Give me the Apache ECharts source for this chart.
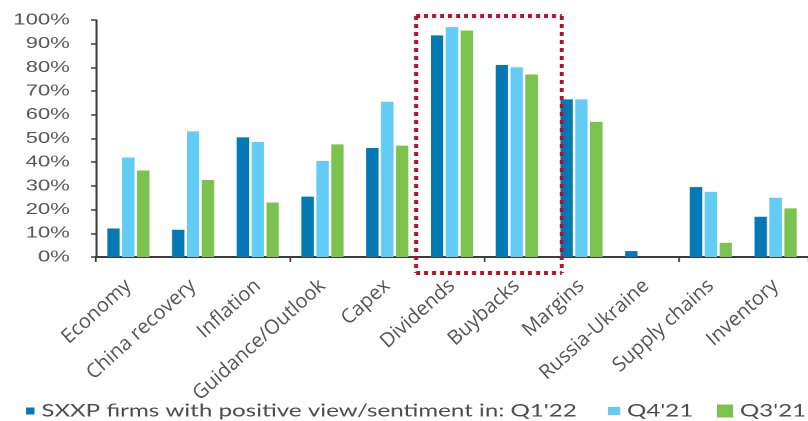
<!DOCTYPE html>
<html>
<head>
<meta charset="utf-8">
<script src="https://cdn.jsdelivr.net/npm/echarts@6/dist/echarts.min.js"></script>
<style>
  html, body { margin: 0; padding: 0; background: #fff; }
  #wrap { width: 808px; height: 421px; overflow: hidden; position: relative; }
  /* plot is laid out at a narrower width and stretched horizontally */
  #chart { position: absolute; left: 0; top: 0; width: 586px; height: 421px; transform: scaleX(1.3788); transform-origin: 0 0; }
  /* category labels are drawn unstretched on a layer above */
  #labels { position: absolute; left: 0; top: 0; width: 808px; height: 421px; pointer-events: none; }
</style>
</head>
<body>
<div id="wrap"><div id="chart"></div><div id="labels"></div></div>
<script>
const categories = ['Economy', 'China recovery', 'Inflation', 'Guidance/Outlook', 'Capex',
  'Dividends', 'Buybacks', 'Margins', 'Russia-Ukraine', 'Supply chains', 'Inventory'];
const seriesNames = ['SXXP firms with positive view/sentiment in: Q1\'22', 'Q4\'21', 'Q3\'21'];
const q1_22 = [12, 11.5, 50.5, 25.5, 46, 93.5, 81, 66.5, 2.5, 29.5, 17];
const q4_21 = [42, 53, 48.5, 40.5, 65.5, 97, 80, 66.5, 0, 27.5, 25];
const q3_21 = [36.5, 32.5, 23, 47.5, 47, 95.5, 77, 57, 0, 6, 20.5];
const yTicks = [0, 10, 20, 30, 40, 50, 60, 70, 80, 90, 100];
const highlighted = ['Dividends', 'Buybacks'];

const colors = ['#0479b4', '#62ccf5', '#7cc24f'];
const axisColor = '#3d3d3d';
const textColor = '#545454';
const stretch = 1.3788;

const chart = echarts.init(document.getElementById('chart'), null, { renderer: 'canvas', devicePixelRatio: 2 });
const labelLayer = echarts.init(document.getElementById('labels'), null, { renderer: 'canvas', devicePixelRatio: 2 });

function legendFor(i, left, w, h) {
  return {
    data: [seriesNames[i]],
    left: left, top: 402,
    padding: 0,
    itemWidth: w, itemHeight: h,
    icon: 'rect',
    textStyle: { fontFamily: 'Lato', fontSize: 17.5, color: '#4a4a4a' },
    selectedMode: false
  };
}

const values = [q1_22, q4_21, q3_21];
const gridLeft = 69.6;
chart.setOption({
  animation: false,
  color: colors,
  grid: { left: gridLeft, right: 0, top: 20, bottom: 164 },
  legend: [legendFor(0, 19, 6, 7), legendFor(1, 441, 8.7, 8), legendFor(2, 520, 11.6, 13)],
  xAxis: {
    type: 'category',
    data: categories,
    axisLine: { lineStyle: { color: axisColor, width: 2 } },
    axisTick: { show: true, length: 5, lineStyle: { color: axisColor, width: 1.2 } },
    axisLabel: { show: false }
  },
  yAxis: {
    type: 'value',
    min: yTicks[0], max: yTicks[yTicks.length - 1], interval: 10,
    splitLine: { show: false },
    axisLine: { show: true, lineStyle: { color: axisColor, width: 1.5 } },
    axisTick: { show: true, length: 3.6, lineStyle: { color: axisColor, width: 1.5 } },
    axisLabel: { formatter: '{value}%', margin: 19, fontFamily: 'Liberation Sans', fontSize: 16, color: textColor }
  },
  series: values.map((v, i) => ({
    name: seriesNames[i],
    type: 'bar',
    data: v,
    barWidth: 9,
    barGap: '20%'
  }))
});

// same category axis at full width, carrying only the slanted labels
labelLayer.setOption({
  animation: false,
  grid: { left: gridLeft * stretch, right: 0, top: 20, bottom: 164 },
  xAxis: {
    type: 'category',
    data: categories,
    axisLine: { show: false },
    axisTick: { show: false },
    axisLabel: { rotate: 42, margin: 26, interval: 0, fontFamily: 'Open Sans', fontSize: 20, color: textColor }
  },
  yAxis: { type: 'value', min: 0, max: 100, show: false }
});

// dotted frame around the highlighted categories
function drawFrame() {
  const a = chart.convertToPixel({ xAxisIndex: 0 }, highlighted[0]);
  const b = chart.convertToPixel({ xAxisIndex: 0 }, highlighted[1]);
  const cw = b - a;
  const x0 = a - 0.555 * cw;
  const x1 = b + 0.695 * cw;
  const y0 = chart.convertToPixel({ yAxisIndex: 0 }, 100) - 4;
  const y1 = chart.convertToPixel({ yAxisIndex: 0 }, 0) + 16;
  const red = '#b3122a';
  const horiz = { stroke: red, lineWidth: 4, lineDash: [2.9, 2.9] };
  const vert = { stroke: red, lineWidth: 2.9, lineDash: [4, 4] };
  chart.setOption({
    graphic: [
      { type: 'line', shape: { x1: x0, y1: y0, x2: x1, y2: y0 }, style: horiz, z: 100 },
      { type: 'line', shape: { x1: x0, y1: y1, x2: x1, y2: y1 }, style: horiz, z: 100 },
      { type: 'line', shape: { x1: x0, y1: y0, x2: x0, y2: y1 }, style: vert, z: 100 },
      { type: 'line', shape: { x1: x1, y1: y0, x2: x1, y2: y1 }, style: vert, z: 100 }
    ]
  });
}
drawFrame();
</script>
</body>
</html>
